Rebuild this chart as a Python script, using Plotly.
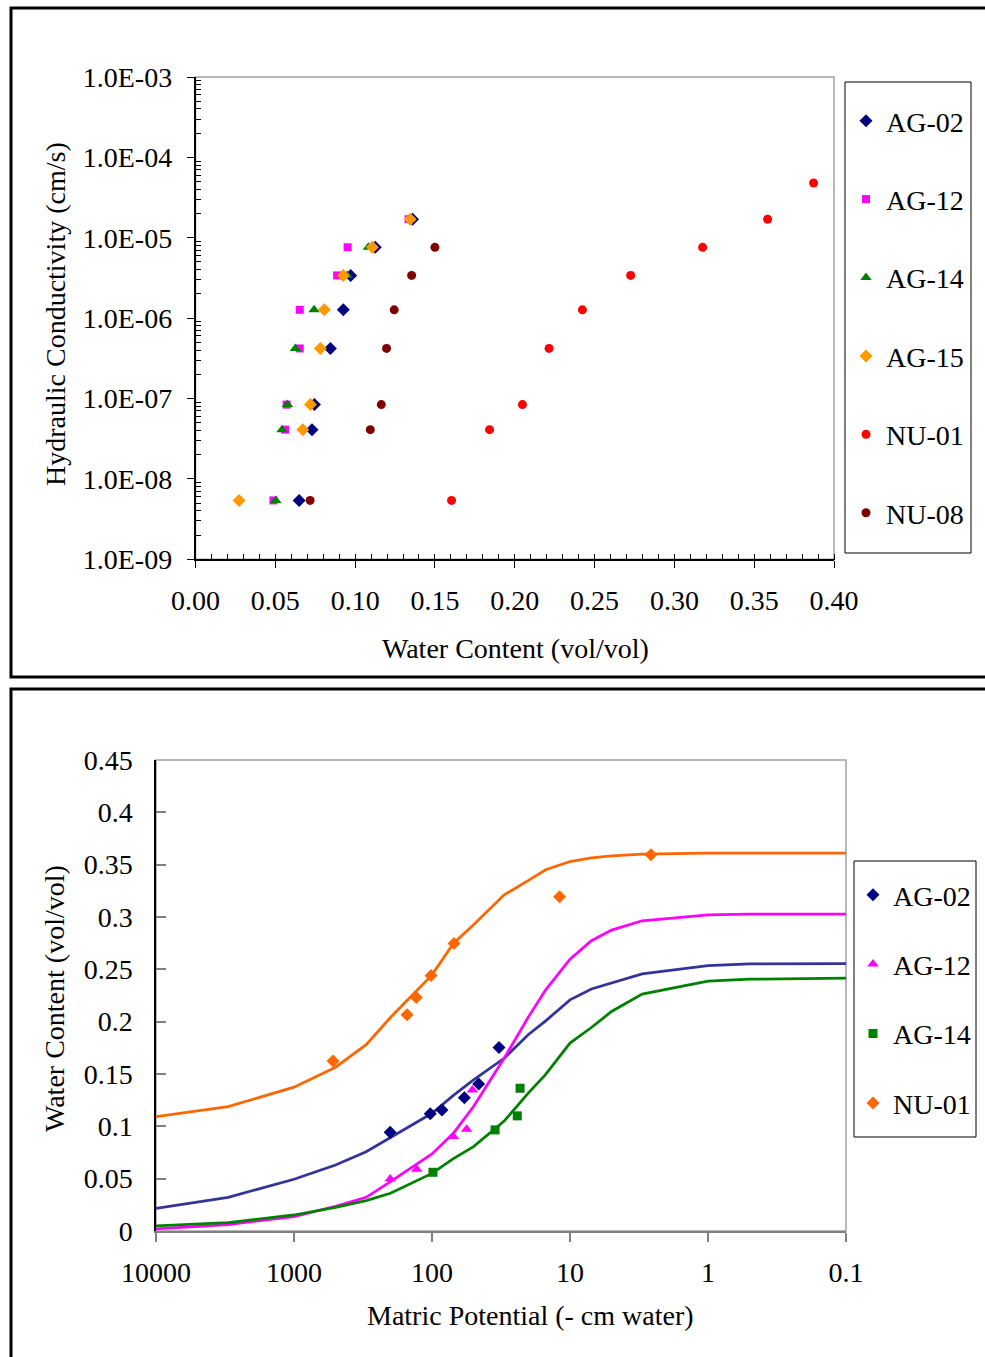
import plotly.graph_objects as go

W, H = 985, 1357
FONT = "Liberation Serif"

# ---------------- Top chart data: hydraulic conductivity vs water content ----------------
K_levels = [5.4e-9, 4.1e-8, 8.4e-8, 4.2e-7, 1.27e-6, 3.4e-6, 7.6e-6, 1.7e-5, 4.8e-5]

wc_AG02 = [0.0649, 0.0730, 0.0745, 0.0845, 0.0926, 0.0972, 0.1126, 0.1360]
wc_AG12 = [0.0488, 0.0561, 0.0571, 0.0653, 0.0653, 0.0887, 0.0953, 0.1335]
wc_AG14 = [0.0503, 0.0542, 0.0576, 0.0626, 0.0743, 0.0951, 0.1083, 0.1345]
wc_AG15 = [0.0273, 0.0672, 0.0720, 0.0782, 0.0807, 0.0926, 0.1108, 0.1345]
wc_NU01 = [0.1604, 0.1842, 0.2048, 0.2215, 0.2424, 0.2726, 0.3177, 0.3584, 0.3872]
wc_NU08 = [0.0718, 0.1095, 0.1164, 0.1197, 0.1245, 0.1354, 0.1500]

top_ticktext = ["1.0E-09", "1.0E-08", "1.0E-07", "1.0E-06", "1.0E-05", "1.0E-04", "1.0E-03"]
top_tickvals = [1e-9, 1e-8, 1e-7, 1e-6, 1e-5, 1e-4, 1e-3]

# ---------------- Bottom chart data: water retention ----------------
h_AG02 = [201, 103, 84.7, 58.3, 45.9, 32.7]
th_AG02 = [0.0944, 0.1121, 0.1157, 0.1272, 0.1405, 0.1752]
h_AG12 = [201, 129, 70.1, 56.1, 51.0]
th_AG12 = [0.0497, 0.0590, 0.0902, 0.0972, 0.1348]
h_AG14 = [98.4, 34.9, 24.1, 23.0]
th_AG14 = [0.0561, 0.0966, 0.1100, 0.1364]
h_NU01 = [521, 151.6, 130, 101.6, 69.3, 11.9, 2.59]
th_NU01 = [0.1625, 0.2065, 0.2230, 0.2440, 0.2747, 0.3193, 0.3595]

h_fit = [10000, 3000, 1000, 500, 300, 200, 100, 70, 50, 30, 20, 15, 10, 7, 5, 3, 1, 0.5, 0.1]
fit_AG02 = [0.0217, 0.0322, 0.0494, 0.0630, 0.0758, 0.0895, 0.1125, 0.1296, 0.1444, 0.1650,
            0.1877, 0.2008, 0.2208, 0.2313, 0.2371, 0.2457, 0.2536, 0.2553, 0.2555]
fit_AG12 = [0.0020, 0.0062, 0.0137, 0.0235, 0.0322, 0.0471, 0.0736, 0.0934, 0.1189, 0.1651,
            0.2046, 0.2304, 0.2597, 0.2773, 0.2875, 0.2964, 0.3021, 0.3027, 0.3027]
fit_AG14 = [0.0048, 0.0079, 0.0153, 0.0225, 0.0290, 0.0360, 0.0550, 0.0691, 0.0806, 0.1050,
            0.1320, 0.1496, 0.1795, 0.1944, 0.2097, 0.2263, 0.2387, 0.2406, 0.2416]
fit_NU01 = [0.1093, 0.1188, 0.1374, 0.1565, 0.1780, 0.2040, 0.2447, 0.2747, 0.2925, 0.3212,
            0.3350, 0.3451, 0.3530, 0.3565, 0.3585, 0.3600, 0.3610, 0.3610, 0.3610]

bot_tickvals_x = [10000, 1000, 100, 10, 1, 0.1]
bot_ticktext_x = ["10000", "1000", "100", "10", "1", "0.1"]
bot_tickvals_y = [0, 0.05, 0.1, 0.15, 0.2, 0.25, 0.3, 0.35, 0.4, 0.45]
bot_ticktext_y = ["0", "0.05", "0.1", "0.15", "0.2", "0.25", "0.3", "0.35", "0.4", "0.45"]


def px(p):
    return p / W


def py(p):
    return 1 - p / H


fig = go.Figure()

top_series = [
    ("AG-02", wc_AG02, "#000080", "diamond", 10),
    ("AG-12", wc_AG12, "#FF00FF", "square", 8),
    ("AG-14", wc_AG14, "#008000", "triangle-up", 10),
    ("AG-15", wc_AG15, "#FF9900", "diamond", 10),
    ("NU-01", wc_NU01, "#FF0000", "circle", 9),
    ("NU-08", wc_NU08, "#800000", "circle", 9),
]
for name, wc, col, sym, sz in top_series:
    fig.add_trace(go.Scatter(
        x=wc, y=K_levels[:len(wc)], mode="markers", name=name,
        marker=dict(color=col, symbol=sym, size=sz, line=dict(width=0)),
        xaxis="x", yaxis="y", legend="legend", legendgroup="t" + name,
    ))

fits = [
    (fit_AG02, "#333399"),
    (fit_AG12, "#FF00FF"),
    (fit_AG14, "#008000"),
    (fit_NU01, "#FF6600"),
]
for fy, col in fits:
    fig.add_trace(go.Scatter(
        x=h_fit, y=fy, mode="lines", line=dict(color=col, width=2.75),
        showlegend=False, xaxis="x2", yaxis="y2", hoverinfo="skip",
    ))

bot_series = [
    ("AG-02", h_AG02, th_AG02, "#000080", "diamond", 10),
    ("AG-12", h_AG12, th_AG12, "#FF00FF", "triangle-up", 10),
    ("AG-14", h_AG14, th_AG14, "#008000", "square", 9),
    ("NU-01", h_NU01, th_NU01, "#FF6600", "diamond", 10),
]
for name, hx, th, col, sym, sz in bot_series:
    fig.add_trace(go.Scatter(
        x=hx, y=th, mode="markers", name=name,
        marker=dict(color=col, symbol=sym, size=sz, line=dict(width=0)),
        xaxis="x2", yaxis="y2", legend="legend2", legendgroup="b" + name,
    ))

# minor ticks for log axis
minor_vals = []
for e in range(-9, -3):
    for m in range(2, 10):
        minor_vals.append(m * 10 ** e)

tickfont = dict(family=FONT, size=28, color="black")

fig.update_layout(
    width=W, height=H, autosize=False,
    margin=dict(l=0, r=0, t=0, b=0, autoexpand=False),
    paper_bgcolor="white", plot_bgcolor="white",
    font=dict(family=FONT, size=28, color="black"),
    showlegend=True,
    xaxis=dict(
        domain=[px(195.5), px(834)], anchor="y", range=[0, 0.40], automargin=False,
        tickmode="linear", tick0=0, dtick=0.05, tickformat=".2f",
        ticks="outside", ticklen=7, tickcolor="black", tickwidth=1,
        showline=True, linecolor="black", linewidth=1.5,
        showgrid=False, zeroline=False, tickfont=tickfont,
        minor=dict(ticks="inside", ticklen=6, dtick=0.01, tickcolor="black", showgrid=False),
        ticklabelstandoff=8,
    ),
    yaxis=dict(
        domain=[py(559.3), py(77)], anchor="x", type="log", range=[-9, -3], automargin=False,
        tickvals=top_tickvals, ticktext=top_ticktext,
        ticks="outside", ticklen=7, tickcolor="black", tickwidth=1,
        showline=True, linecolor="black", linewidth=1.5,
        showgrid=False, zeroline=False, tickfont=tickfont,
        minor=dict(ticks="inside", ticklen=6, tickvals=minor_vals, tickcolor="black", showgrid=False),
        ticklabelstandoff=9,
    ),
    xaxis2=dict(
        domain=[px(156), px(846)], anchor="y2", type="log", range=[4, -1], automargin=False,
        tickvals=bot_tickvals_x, ticktext=bot_ticktext_x,
        ticks="outside", ticklen=9, tickcolor="#808080", tickwidth=1.5,
        showline=True, linecolor="#808080", linewidth=1.5,
        showgrid=False, zeroline=False, tickfont=tickfont,
        ticklabelstandoff=7,
    ),
    yaxis2=dict(
        domain=[py(1231), py(760)], anchor="x2", range=[0, 0.45], automargin=False,
        tickvals=bot_tickvals_y, ticktext=bot_ticktext_y,
        ticks="inside", ticklen=10, tickcolor="#808080", tickwidth=1.5,
        showline=True, linecolor="black", linewidth=1.5,
        showgrid=False, zeroline=False, tickfont=tickfont,
        ticklabelstandoff=16,
    ),
    legend=dict(
        x=px(846), y=py(96), xanchor="left", yanchor="top",
        bgcolor="rgba(0,0,0,0)", borderwidth=0,
        font=dict(family=FONT, size=28), tracegroupgap=39,
    ),
    legend2=dict(
        x=px(853), y=py(870), xanchor="left", yanchor="top",
        bgcolor="rgba(0,0,0,0)", borderwidth=0,
        font=dict(family=FONT, size=28), tracegroupgap=30,
    ),
)

shapes = [
    # panel frames
    dict(type="rect", xref="paper", yref="paper", x0=px(11), x1=px(1000), y0=py(677), y1=py(8),
         line=dict(color="black", width=3), fillcolor="rgba(0,0,0,0)"),
    dict(type="rect", xref="paper", yref="paper", x0=px(11), x1=px(1000), y0=py(1380), y1=py(689),
         line=dict(color="black", width=3), fillcolor="rgba(0,0,0,0)"),
    # plot area borders
    dict(type="rect", xref="x domain", yref="y domain", x0=0, x1=1, y0=0, y1=1,
         line=dict(color="#A0A0A0", width=1.5), layer="below"),
    dict(type="rect", xref="x2 domain", yref="y2 domain", x0=0, x1=1, y0=0, y1=1,
         line=dict(color="#A0A0A0", width=1.5), layer="below"),
    # legend boxes
    dict(type="rect", xref="paper", yref="paper", x0=px(845), x1=px(971), y0=py(553), y1=py(82),
         line=dict(color="black", width=1)),
    dict(type="rect", xref="paper", yref="paper", x0=px(854), x1=px(976), y0=py(1137), y1=py(861),
         line=dict(color="black", width=1)),
]
fig.update_layout(shapes=shapes)

ann_font = dict(family=FONT, size=28, color="black")
fig.update_layout(annotations=[
    dict(text="Hydraulic Conductivity (cm/s)", xref="paper", yref="paper", x=px(55), y=py(314),
         xanchor="center", yanchor="middle", textangle=-90, showarrow=False, font=ann_font),
    dict(text="Water Content (vol/vol)", xref="paper", yref="paper", x=px(515), y=py(648),
         xanchor="center", yanchor="middle", showarrow=False, font=ann_font),
    dict(text="Water Content (vol/vol)", xref="paper", yref="paper", x=px(55), y=py(999),
         xanchor="center", yanchor="middle", textangle=-90, showarrow=False, font=ann_font),
    dict(text="Matric Potential (- cm water)", xref="paper", yref="paper", x=px(530), y=py(1315),
         xanchor="center", yanchor="middle", showarrow=False, font=ann_font),
])

fig.write_html("out.html")
